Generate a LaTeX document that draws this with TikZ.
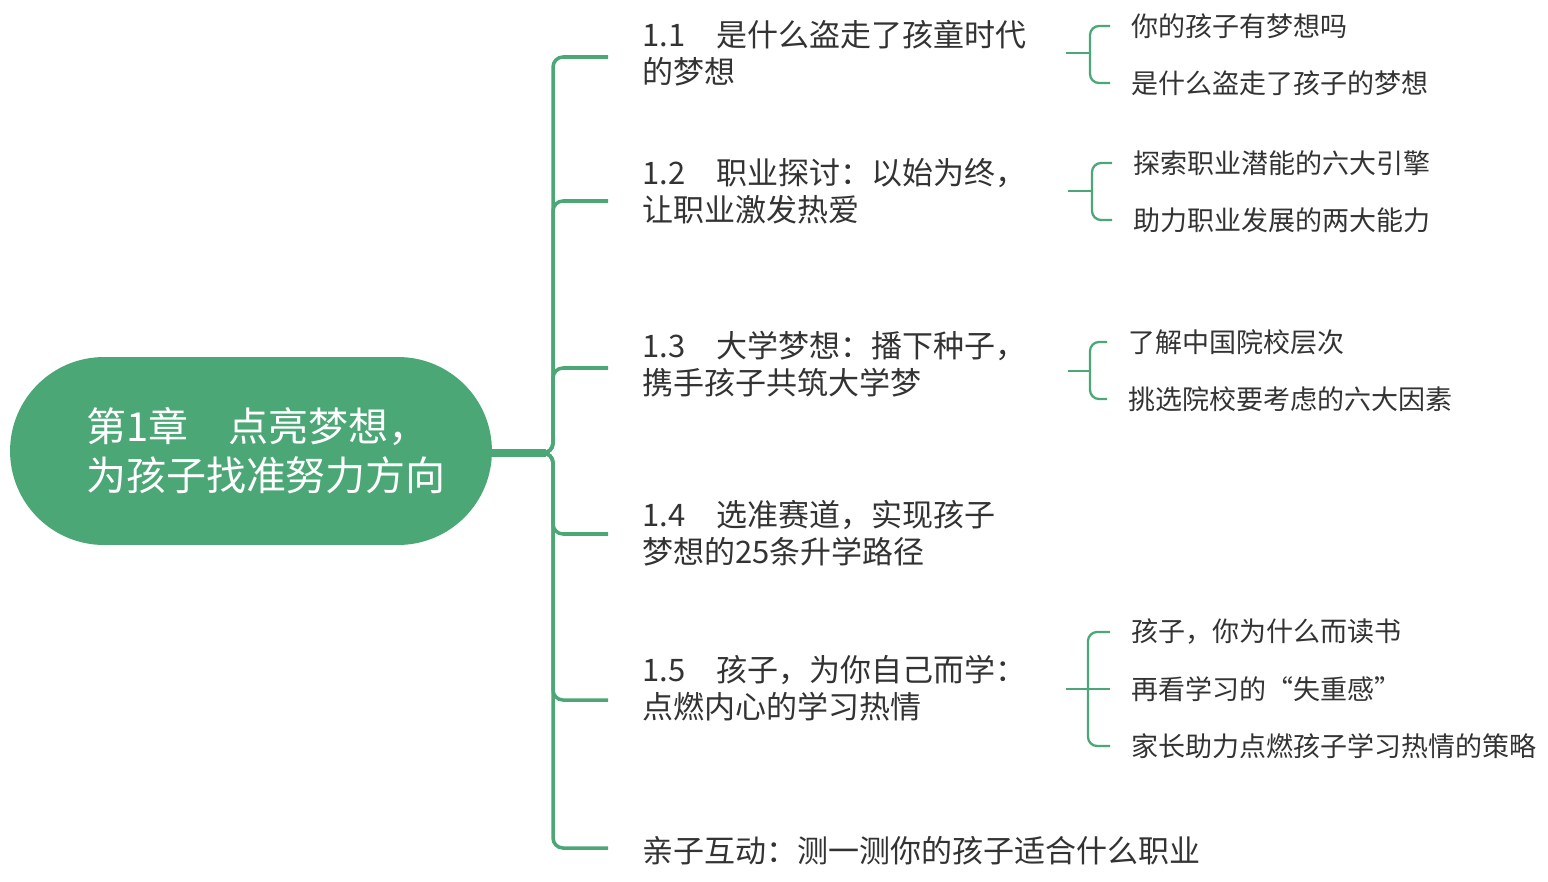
\documentclass[tikz,border=0pt]{standalone}
\usepackage{fontspec}
\setmainfont{Noto Sans CJK SC}
\definecolor{mindgreen}{HTML}{4BA775}
\definecolor{txtgray}{HTML}{333333}
\begin{document}
\begin{tikzpicture}[x=0.02cm, y=-0.02cm,
  rootnode/.style={rectangle, rounded corners=1.88cm, fill=mindgreen,
    minimum width=9.64cm, minimum height=3.76cm, inner sep=0pt,
    text=white, text width=6.6cm, align=left,
    font=\fontsize{0.8cm}{0.98cm}\selectfont},
  secnode/.style={anchor=west, inner sep=0pt, align=left, text=txtgray,
    font=\fontsize{0.62cm}{0.74cm}\selectfont},
  subnode/.style={anchor=west, inner xsep=0.42cm, inner ysep=0pt,
    text=txtgray, font=\fontsize{0.54cm}{0.65cm}\selectfont},
  trunk/.style={mindgreen, line width=2pt, rounded corners=0.2cm},
  twig/.style={mindgreen, line width=1.3pt, rounded corners=0.18cm}]
  \useasboundingbox (0,0) rectangle (1548,882);

  % Root
  \node[rootnode] (root) at (251,451) {第1章　点亮梦想，\\为孩子找准努力方向};

  % Sections
  \node[secnode] (s1) at (642,53) {1.1　是什么盗走了孩童时代\\的梦想};
  \node[secnode] (s2) at (642,191) {1.2　职业探讨：以始为终，\\让职业激发热爱};
  \node[secnode] (s3) at (642,364) {1.3　大学梦想：播下种子，\\携手孩子共筑大学梦};
  \node[secnode] (s4) at (642,533) {1.4　选准赛道，实现孩子\\梦想的25条升学路径};
  \node[secnode] (s5) at (642,688) {1.5　孩子，为你自己而学：\\点燃内心的学习热情};
  \node[secnode] (s6) at (642,851) {亲子互动：测一测你的孩子适合什么职业};

  % Trunk and branches
  \coordinate (jn) at (553,453);
  \coordinate (rj) at (root.east |- jn);
  \coordinate (b1) at (608,57);
  \coordinate (b2) at (608,201);
  \coordinate (b3) at (608,368);
  \coordinate (b4) at (608,534);
  \coordinate (b5) at (608,700);
  \coordinate (b6) at (608,848);
  \draw[mindgreen, line width=0.16cm] ([xshift=-4pt]rj) -- ([xshift=-0.14cm]jn);
  \foreach \b in {b1,b2,b3,b4,b5,b6}
    \draw[trunk] ([xshift=-0.3cm]jn) -- (jn) |- (\b);

  % Sub items of 1.1
  \coordinate (k1) at (1066,53);
  \coordinate (v1) at (1090,53);
  \node[subnode] (t11) at (1110,26) {你的孩子有梦想吗};
  \node[subnode] (t12) at (1110,83) {是什么盗走了孩子的梦想};
  \draw[twig] (k1) -- (v1);
  \draw[twig] (v1) |- (t11.west);
  \draw[twig] (v1) |- (t12.west);

  % Sub items of 1.2
  \coordinate (k2) at (1068,191);
  \coordinate (v2) at (1092,191);
  \node[subnode] (t21) at (1112,163) {探索职业潜能的六大引擎};
  \node[subnode] (t22) at (1112,220) {助力职业发展的两大能力};
  \draw[twig] (k2) -- (v2);
  \draw[twig] (v2) |- (t21.west);
  \draw[twig] (v2) |- (t22.west);

  % Sub items of 1.3
  \coordinate (k3) at (1068,371);
  \coordinate (v3) at (1090,371);
  \node[subnode] (t31) at (1107,342) {了解中国院校层次};
  \node[subnode] (t32) at (1107,399) {挑选院校要考虑的六大因素};
  \draw[twig] (k3) -- (v3);
  \draw[twig] (v3) |- (t31.west);
  \draw[twig] (v3) |- (t32.west);

  % Sub items of 1.5
  \coordinate (k5) at (1066,689);
  \coordinate (v5) at (1088,689);
  \node[subnode] (t51) at (1110,632) {孩子，你为什么而读书};
  \node[subnode] (t52) at (1110,689) {再看学习的“失重感”};
  \node[subnode] (t53) at (1110,746) {家长助力点燃孩子学习热情的策略};
  \draw[twig] (k5) -- (v5);
  \draw[twig] (v5) |- (t51.west);
  \draw[twig] (v5) -- (t52.west);
  \draw[twig] (v5) |- (t53.west);

\end{tikzpicture}
\end{document}
